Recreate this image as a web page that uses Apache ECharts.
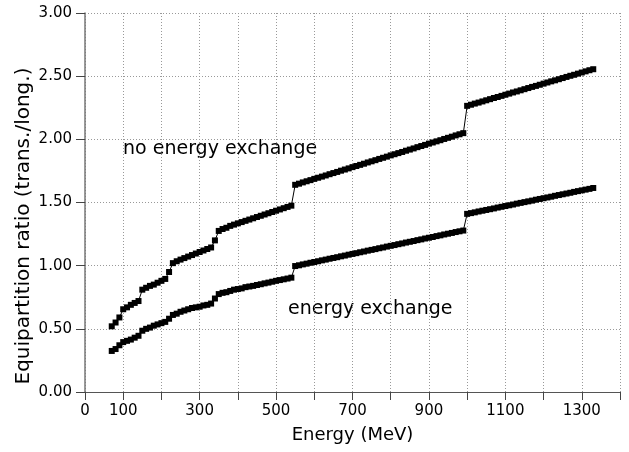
<!DOCTYPE html>
<html>
<head>
<meta charset="utf-8">
<script src="https://cdn.jsdelivr.net/npm/echarts@6/dist/echarts.min.js"></script>
<style>
    html, body { margin: 0; padding: 0; background: #fff; }
    #chart { width: 629px; height: 452px; }
</style>
</head>
<body>
<div id="chart"></div>
<script>
    // energy grid (MeV)
    var energy = [
        70, 80, 90, 100, 110, 120, 130, 140, 150, 160, 170, 180, 190, 200, 210, 220, 230, 240, 250, 260,
        270, 280, 290, 300, 310, 320, 330, 340, 350, 360, 370, 380, 390, 400, 410, 420, 430, 440, 450, 460,
        470, 480, 490, 500, 510, 520, 530, 540, 550, 560, 570, 580, 590, 600, 610, 620, 630, 640, 650, 660,
        670, 680, 690, 700, 710, 720, 730, 740, 750, 760, 770, 780, 790, 800, 810, 820, 830, 840, 850, 860,
        870, 880, 890, 900, 910, 920, 930, 940, 950, 960, 970, 980, 990, 1000, 1010, 1020, 1030, 1040, 1050, 1060,
        1070, 1080, 1090, 1100, 1110, 1120, 1130, 1140, 1150, 1160, 1170, 1180, 1190, 1200, 1210, 1220, 1230, 1240, 1250, 1260,
        1270, 1280, 1290, 1300, 1310, 1320, 1330
    ];

    // ratio without energy exchange
    var noExchange = [
        0.52, 0.55, 0.59, 0.655, 0.67, 0.69, 0.705, 0.72, 0.81, 0.825, 0.84, 0.85, 0.865, 0.88, 0.895, 0.95, 1.02, 1.035, 1.048, 1.06,
        1.072, 1.084, 1.096, 1.108, 1.12, 1.132, 1.144, 1.20, 1.275, 1.29, 1.30, 1.315, 1.325, 1.335, 1.345, 1.355, 1.365, 1.375, 1.385, 1.395,
        1.405, 1.415, 1.425, 1.435, 1.445, 1.455, 1.465, 1.475, 1.640, 1.649, 1.659, 1.668, 1.677, 1.687, 1.696, 1.705, 1.714, 1.724, 1.733, 1.742,
        1.752, 1.761, 1.770, 1.780, 1.789, 1.798, 1.807, 1.817, 1.826, 1.835, 1.845, 1.854, 1.863, 1.873, 1.882, 1.891, 1.900, 1.910, 1.919, 1.928,
        1.938, 1.947, 1.956, 1.966, 1.975, 1.984, 1.993, 2.003, 2.012, 2.021, 2.031, 2.040, 2.049, 2.265, 2.274, 2.283, 2.291, 2.300, 2.309, 2.318,
        2.327, 2.335, 2.344, 2.353, 2.362, 2.371, 2.379, 2.388, 2.397, 2.406, 2.415, 2.423, 2.432, 2.441, 2.450, 2.459, 2.467, 2.476, 2.485, 2.494,
        2.503, 2.511, 2.520, 2.529, 2.538, 2.547, 2.555
    ];

    // ratio with energy exchange
    var withExchange = [
        0.325, 0.34, 0.37, 0.395, 0.405, 0.415, 0.43, 0.445, 0.485, 0.50, 0.51, 0.525, 0.535, 0.545, 0.555, 0.58, 0.61, 0.62, 0.635, 0.645,
        0.655, 0.665, 0.67, 0.675, 0.685, 0.69, 0.70, 0.74, 0.775, 0.785, 0.79, 0.80, 0.81, 0.815, 0.82, 0.83, 0.835, 0.84, 0.847, 0.853,
        0.86, 0.866, 0.873, 0.88, 0.886, 0.892, 0.898, 0.905, 0.997, 1.003, 1.010, 1.016, 1.023, 1.029, 1.035, 1.042, 1.048, 1.055, 1.061, 1.067,
        1.074, 1.080, 1.087, 1.093, 1.099, 1.106, 1.112, 1.119, 1.125, 1.131, 1.138, 1.144, 1.151, 1.157, 1.163, 1.170, 1.176, 1.183, 1.189, 1.195,
        1.202, 1.208, 1.215, 1.221, 1.227, 1.234, 1.240, 1.247, 1.253, 1.259, 1.266, 1.272, 1.278, 1.410, 1.416, 1.422, 1.429, 1.435, 1.441, 1.447,
        1.453, 1.460, 1.466, 1.472, 1.478, 1.484, 1.491, 1.497, 1.503, 1.509, 1.515, 1.522, 1.528, 1.534, 1.540, 1.546, 1.553, 1.559, 1.565, 1.571,
        1.577, 1.584, 1.590, 1.596, 1.602, 1.608, 1.615
    ];

    var xLabels = [0, 100, 300, 500, 700, 900, 1100, 1300];

    function pairs(xs, ys) {
        var out = [];
        for (var i = 0; i < xs.length; i++) out.push([xs[i], ys[i]]);
        return out;
    }

    var font = 'DejaVu Sans';
    var myChart = echarts.init(document.getElementById('chart'));

    var option = {
        animation: false,
        backgroundColor: '#fff',
        grid: { left: 85, right: 9, top: 13, bottom: 60 },
        xAxis: {
            type: 'value',
            min: 0,
            max: 1400,
            interval: 100,
            name: 'Energy (MeV)',
            nameLocation: 'middle',
            nameGap: 34,
            nameTextStyle: { fontFamily: font, fontSize: 18, color: '#000' },
            axisLine: { lineStyle: { color: '#555', width: 1 } },
            axisTick: { inside: false, length: 8, lineStyle: { color: '#444' } },
            axisLabel: {
                fontFamily: font, fontSize: 15, color: '#000', margin: 12,
                formatter: function (v) { return xLabels.indexOf(v) >= 0 ? String(v) : ''; }
            },
            splitLine: { show: true, lineStyle: { color: '#999', type: [1, 2], width: 1 } }
        },
        yAxis: {
            type: 'value',
            min: 0,
            max: 3,
            interval: 0.5,
            axisLine: { show: true, lineStyle: { color: '#777', width: 1.5 } },
            axisTick: { show: true, inside: false, length: 9, lineStyle: { color: '#444' } },
            axisLabel: {
                fontFamily: font, fontSize: 15, color: '#000', margin: 13,
                formatter: function (v) { return v.toFixed(2); }
            },
            splitLine: { show: true, lineStyle: { color: '#999', type: [1, 2], width: 1 } }
        },
        graphic: [
            {
                type: 'text', x: 24, y: 226, rotation: Math.PI / 2,
                style: {
                    text: 'Equipartition ratio (trans./long.)',
                    fontFamily: font, fontSize: 20, fill: '#000',
                    align: 'center', verticalAlign: 'middle'
                }
            },
            {
                type: 'text', left: 123, top: 140,
                style: { text: 'no energy exchange', fontFamily: font, fontSize: 19, fill: '#000' }
            },
            {
                type: 'text', left: 288, top: 300,
                style: { text: 'energy exchange', fontFamily: font, fontSize: 19, fill: '#000' }
            }
        ],
        series: [
            {
                name: 'no energy exchange',
                type: 'line',
                data: pairs(energy, noExchange),
                symbol: 'rect',
                symbolSize: 6,
                showAllSymbol: true,
                itemStyle: { color: '#000' },
                lineStyle: { color: '#000', width: 1 }
            },
            {
                name: 'energy exchange',
                type: 'line',
                data: pairs(energy, withExchange),
                symbol: 'rect',
                symbolSize: 6,
                showAllSymbol: true,
                itemStyle: { color: '#000' },
                lineStyle: { color: '#000', width: 1 }
            }
        ]
    };

    myChart.setOption(option);
</script>
</body>
</html>
